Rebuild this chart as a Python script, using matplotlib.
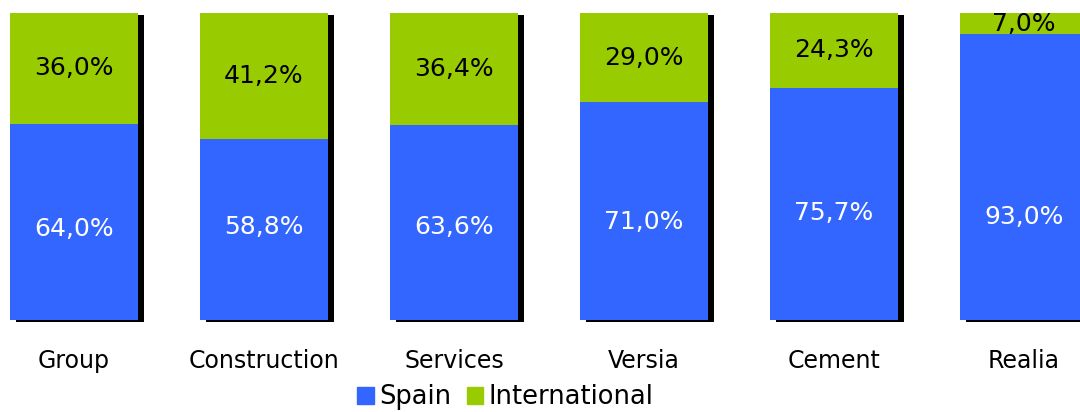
import matplotlib
matplotlib.use("Agg")
import matplotlib.pyplot as plt
import matplotlib.transforms as mtransforms
from matplotlib.patches import Patch

categories = ["Group", "Construction", "Services", "Versia", "Cement", "Realia"]
spain = [64.0, 58.8, 63.6, 71.0, 75.7, 93.0]
international = [36.0, 41.2, 36.4, 29.0, 24.3, 7.0]
# where the Spain labels sit (they're not exactly centred in the original)
spain_label_y = [29.6, 30.3, 30.3, 31.9, 34.8, 33.5]

BLUE = "#3366FF"
GREEN = "#99CC00"

plt.rcParams["font.family"] = "DejaVu Sans"

fig = plt.figure(figsize=(10.8, 4.12), dpi=100)
# axes spans whole width; last bar gets cut off by figure edge like the original
ax = fig.add_axes([0, 92 / 412, 1, 307 / 412])

x = list(range(len(categories)))
width = 128 / 190

# drop shadow: black bars shifted a few pixels right/down
shadow = mtransforms.offset_copy(ax.transData, fig=fig, x=6, y=-2, units="dots")
totals = [s + i for s, i in zip(spain, international)]
ax.bar(x, totals, width=width, color="black", transform=shadow, clip_on=False, zorder=1)

ax.bar(x, spain, width=width, color=BLUE, zorder=2, clip_on=False)
ax.bar(x, international, width=width, bottom=spain, color=GREEN, zorder=2, clip_on=False)

for xi, s, i, ly in zip(x, spain, international, spain_label_y):
    ax.text(xi, ly, f"{s:.1f}%".replace(".", ","), ha="center", va="center",
            color="white", fontsize=18, zorder=3)
    ax.text(xi, s + i / 2, f"{i:.1f}%".replace(".", ","), ha="center", va="center",
            color="black", fontsize=18, zorder=3)

ax.set_xlim(-74 / 190, (1080 - 74) / 190)
ax.set_ylim(0, 100)
ax.set_xticks(x)
ax.set_xticklabels(categories, fontsize=17)
ax.tick_params(axis="x", length=0, pad=21)
ax.set_yticks([])
for side in ax.spines.values():
    side.set_visible(False)

handles = [Patch(color=BLUE, label="Spain"), Patch(color=GREEN, label="International")]
fig.legend(handles=handles, loc="lower center", bbox_to_anchor=(0.468, -0.052), ncol=2,
           frameon=False, fontsize=18.5, handlelength=0.65, handleheight=0.65,
           handletextpad=0.2, columnspacing=0.6)

fig.savefig("out.png", dpi=100)
